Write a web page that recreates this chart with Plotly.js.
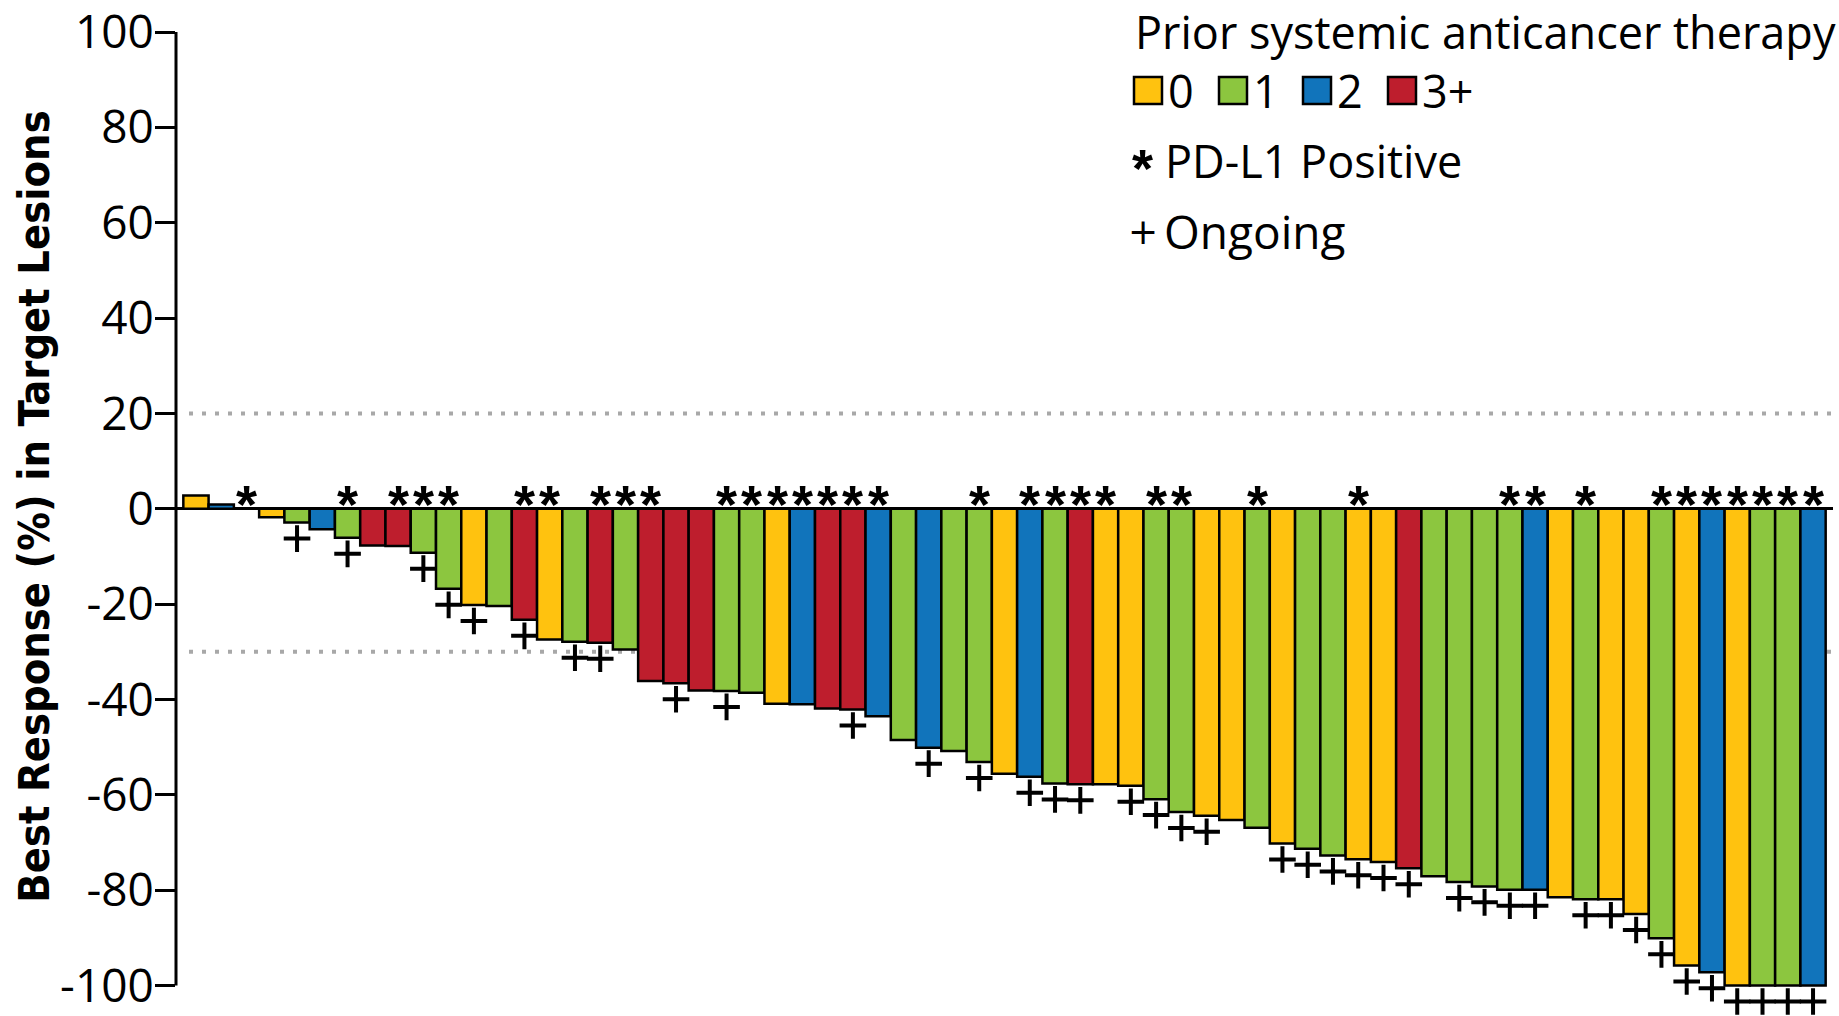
<!DOCTYPE html>
<html>
<head>
<meta charset="utf-8">
<script src="https://cdn.plot.ly/plotly-3.0.1.min.js"></script>
<style>html,body{margin:0;padding:0;background:#fff;}#chart{width:1839px;height:1016px;}</style>
</head>
<body>
<div id="chart"></div>
<script>
// ---- data ----
const patients = Array.from({length: 65}, (_, i) => i + 1);
const bestResponse = [2.8, 0.9, 0, -1.8, -2.9, -4.3, -6.1, -7.7, -7.8, -9.2,
  -16.8, -20.2, -20.4, -23.3, -27.4, -27.9, -28.1, -29.5, -36.1, -36.6,
  -38.1, -38.2, -38.6, -40.9, -41.0, -41.9, -42.1, -43.5, -48.5, -50.1,
  -50.8, -53.1, -55.6, -56.2, -57.6, -57.8, -57.8, -58.1, -60.9, -63.6,
  -64.4, -65.3, -66.9, -70.2, -71.3, -72.7, -73.5, -74.1, -75.4, -77.1,
  -78.3, -79.2, -79.9, -79.9, -81.5, -81.9, -81.9, -85.0, -90.1, -95.8,
  -97.2, -100, -100, -100, -100];
// prior systemic anticancer therapy lines: 0,1,2,3 (3 = "3+")
const priorTherapy = [0, 2, 1, 0, 1, 2, 1, 3, 3, 1,
  1, 0, 1, 3, 0, 1, 3, 1, 3, 3,
  3, 1, 1, 0, 2, 3, 3, 2, 1, 2,
  1, 1, 0, 2, 1, 3, 0, 0, 1, 1,
  0, 0, 1, 0, 1, 1, 0, 0, 3, 1,
  1, 1, 1, 2, 0, 1, 0, 0, 1, 0,
  2, 0, 1, 1, 2];
const pdl1Positive = [0, 0, 1, 0, 0, 0, 1, 0, 1, 1,
  1, 0, 0, 1, 1, 0, 1, 1, 1, 0,
  0, 1, 1, 1, 1, 1, 1, 1, 0, 0,
  0, 1, 0, 1, 1, 1, 1, 0, 1, 1,
  0, 0, 1, 0, 0, 0, 1, 0, 0, 0,
  0, 0, 1, 1, 0, 1, 0, 0, 1, 1,
  1, 1, 1, 1, 1];
const ongoing = [0, 0, 0, 0, 1, 0, 1, 0, 0, 1,
  1, 1, 0, 1, 0, 1, 1, 0, 0, 1,
  0, 1, 0, 0, 0, 0, 1, 0, 0, 1,
  0, 1, 0, 1, 1, 1, 0, 1, 1, 1,
  1, 0, 0, 1, 1, 1, 1, 1, 1, 0,
  1, 1, 1, 1, 0, 1, 1, 1, 1, 1,
  1, 1, 1, 1, 1];
const priorLabels = ['0', '1', '2', '3+'];
const priorColors = ['#FFC20F', '#8CC63F', '#1174BB', '#BE1E2D'];
const tickVals = [100, 80, 60, 40, 20, 0, -20, -40, -60, -80, -100];
const tickText = ['100', '80', '60', '40', '20', '0', '-20', '-40', '-60', '-80', '-100'];
const thresholds = [20, -30];
const yTitle = 'Best Response (%) in Target Lesions';
const legendTitle = 'Prior systemic anticancer therapy';
const pdl1Label = 'PD-L1 Positive';
const ongoingLabel = 'Ongoing';

// ---- layout helpers (pixel -> paper) ----
const W = 1839, H = 1016;
const yRange = [-104.5, 100];
const PXU = 4.77;                      // pixels per percentage point
const PH = (yRange[1] - yRange[0]) * PXU;
const M = {l: 176, r: 6, t: 32, b: H - 32 - PH};
const PW = W - M.l - M.r;
const px = p => (p - M.l) / PW;
const py = p => 1 - (p - M.t) / PH;

const TXT = 'Open Sans, sans-serif';
const STAR = {family: 'Liberation Sans', size: 54, color: '#000', weight: 'bold'};

const bars = {
  type: 'bar', x: patients, y: bestResponse, width: 1,
  marker: {color: priorTherapy.map(c => priorColors[c]), line: {color: '#000', width: 2.5}},
  hoverinfo: 'x+y', cliponaxis: false
};
const onIdx = patients.map((p, i) => i).filter(i => ongoing[i]);
const plusTrace = {
  type: 'scatter', mode: 'markers', cliponaxis: false, hoverinfo: 'skip',
  x: onIdx.map(i => patients[i]),
  y: onIdx.map(i => bestResponse[i] - 16 / PXU),
  marker: {symbol: 'cross-thin', size: 19, color: '#000', line: {color: '#000', width: 4}}
};

const annotations = [];
patients.forEach((p, i) => {
  if (pdl1Positive[i]) annotations.push({x: p, y: 0, xref: 'x', yref: 'y', text: '*', showarrow: false,
    yanchor: 'middle', yshift: 5, font: STAR});
});

// y-axis title
annotations.push({xref: 'paper', yref: 'paper', x: px(34), y: py(507), xanchor: 'center', yanchor: 'middle',
  textangle: -90, text: yTitle, showarrow: false,
  font: {family: 'DejaVu Sans Condensed, DejaVu Sans', size: 43, weight: 'bold', color: '#000'}});

// legend
annotations.push({xref: 'paper', yref: 'paper', x: px(1133), y: py(31), xanchor: 'left', yanchor: 'middle',
  text: legendTitle, showarrow: false, font: {family: TXT, size: 45, color: '#000'}});
const sqLeft = [1134, 1219, 1303, 1388];
const shapes = [];
priorLabels.forEach((lab, k) => {
  shapes.push({type: 'rect', xref: 'paper', yref: 'paper', x0: px(sqLeft[k]), x1: px(sqLeft[k] + 28),
    y0: py(104), y1: py(77), fillcolor: priorColors[k], line: {color: '#000', width: 2.5}});
  annotations.push({xref: 'paper', yref: 'paper', x: px(sqLeft[k] + 32), y: py(91), xanchor: 'left', yanchor: 'middle',
    text: lab, showarrow: false, font: {family: TXT, size: 45, color: '#000'}});
});
annotations.push({xref: 'paper', yref: 'paper', x: px(1142), y: py(165), xanchor: 'center', yanchor: 'middle', yshift: -3,
  text: '*', showarrow: false, font: STAR});
annotations.push({xref: 'paper', yref: 'paper', x: px(1163), y: py(161), xanchor: 'left', yanchor: 'middle',
  text: pdl1Label, showarrow: false, font: {family: TXT, size: 45, color: '#000'}});
annotations.push({xref: 'paper', yref: 'paper', x: px(1143), y: py(232), xanchor: 'center', yanchor: 'middle',
  text: '+', showarrow: false, font: {family: 'DejaVu Sans', size: 36, color: '#000'}});
annotations.push({xref: 'paper', yref: 'paper', x: px(1162), y: py(231), xanchor: 'left', yanchor: 'middle',
  text: ongoingLabel, showarrow: false, font: {family: TXT, size: 46, color: '#000'}});

// y-axis line (ends at the -100 tick)
shapes.push({type: 'line', xref: 'paper', yref: 'y', x0: 0, x1: 0, y0: -100, y1: 100,
  line: {color: '#000', width: 3}});
thresholds.forEach(t => shapes.push({type: 'line', layer: 'below', xref: 'paper', yref: 'y',
  x0: px(189), x1: px(1839), y0: t, y1: t, line: {color: '#A8A8A8', width: 4, dash: '4px,9px'}}));

const layout = {
  width: W, height: H, margin: M, paper_bgcolor: '#fff', plot_bgcolor: '#fff', showlegend: false,
  bargap: 0,
  xaxis: {range: [0.21, 65.79], visible: false, fixedrange: true},
  yaxis: {range: yRange, tickvals: tickVals, ticktext: tickText, showgrid: false,
    showline: false, ticks: 'outside', ticklen: 20, tickwidth: 3, tickcolor: '#000',
    ticklabelstandoff: -8, ticklabeloverflow: 'allow',
    zeroline: true, zerolinecolor: '#000', zerolinewidth: 3,
    tickfont: {family: TXT, size: 46, color: '#000'}},
  shapes: shapes, annotations: annotations
};
Plotly.newPlot('chart', [bars, plusTrace], layout, {displayModeBar: false, staticPlot: true});
</script>
</body>
</html>
